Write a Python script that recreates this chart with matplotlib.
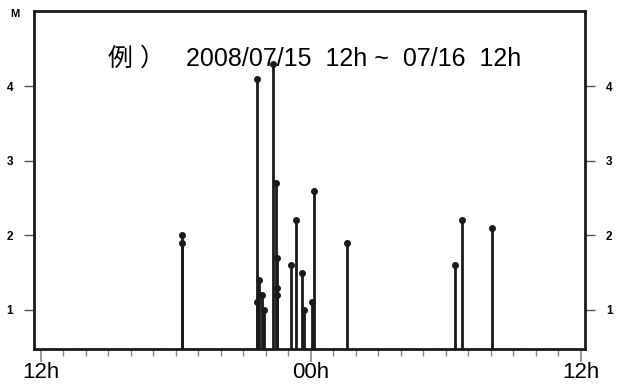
import numpy as np
import matplotlib
matplotlib.use('Agg')
import matplotlib.pyplot as plt

# 発生時刻 (12h からの経過時間) とマグニチュード
hours = [6.27, 6.27, 9.60, 9.60, 9.71, 9.85, 9.93, 10.34, 10.46, 10.48,
         10.48, 10.49, 11.13, 11.35, 11.59, 11.71, 12.05, 12.14, 13.62,
         18.43, 18.74, 20.08]
mags = [2.0, 1.9, 4.1, 1.1, 1.4, 1.2, 1.0, 4.3, 2.7, 1.7,
        1.3, 1.2, 1.6, 2.2, 1.5, 1.0, 1.1, 2.6, 1.9,
        1.6, 2.2, 2.1]
x_ticks = [0, 12, 24]
x_labels = ['12h', '00h', '12h']
y_ticks = [1, 2, 3, 4]
title = '例 ）   2008/07/15  12h ~  07/16  12h'

plt.rcParams['font.family'] = ['Liberation Sans', 'Noto Sans CJK JP']

fig = plt.figure(figsize=(6.24, 3.85), dpi=100)
ax = fig.add_axes([0.0545, 0.0935, 0.883, 0.8779])

ymin, ymax = 0.475, 5.01
ax.vlines(hours, ymin, mags, color='#1a1a1a', lw=2)
ax.plot(hours, mags, 'o', color='#1a1a1a', ms=4)

ax.set_xlim(-0.31, 24.2)
ax.set_ylim(ymin, ymax)

# x軸
ax.set_xticks(x_ticks)
ax.set_xticklabels(x_labels, fontsize=16)
ax.set_xticks(np.arange(0, 25, 1), minor=True)
ax.tick_params(axis='x', which='major', length=9, width=1.2, color='#888888', pad=0)
ax.tick_params(axis='x', which='minor', length=5, width=1, color='#888888')

# y軸 (左右)
ax.set_yticks(y_ticks)
ax.set_yticklabels([str(v) for v in y_ticks], fontsize=8.5, fontweight='bold')
ax.tick_params(axis='y', which='both', left=True, right=True,
               labelleft=True, labelright=True, length=7, width=1,
               color='#555555', pad=8)

for s in ax.spines.values():
    s.set_linewidth(2)
    s.set_color('#1a1a1a')

ax.text(0.509, 0.86, title, transform=ax.transAxes, ha='center', va='center',
        fontsize=18)
fig.text(10 / 624, 1 - 14 / 385, 'M', fontsize=8, fontweight='bold', ha='left', va='center')

fig.savefig('out.png', dpi=100)
